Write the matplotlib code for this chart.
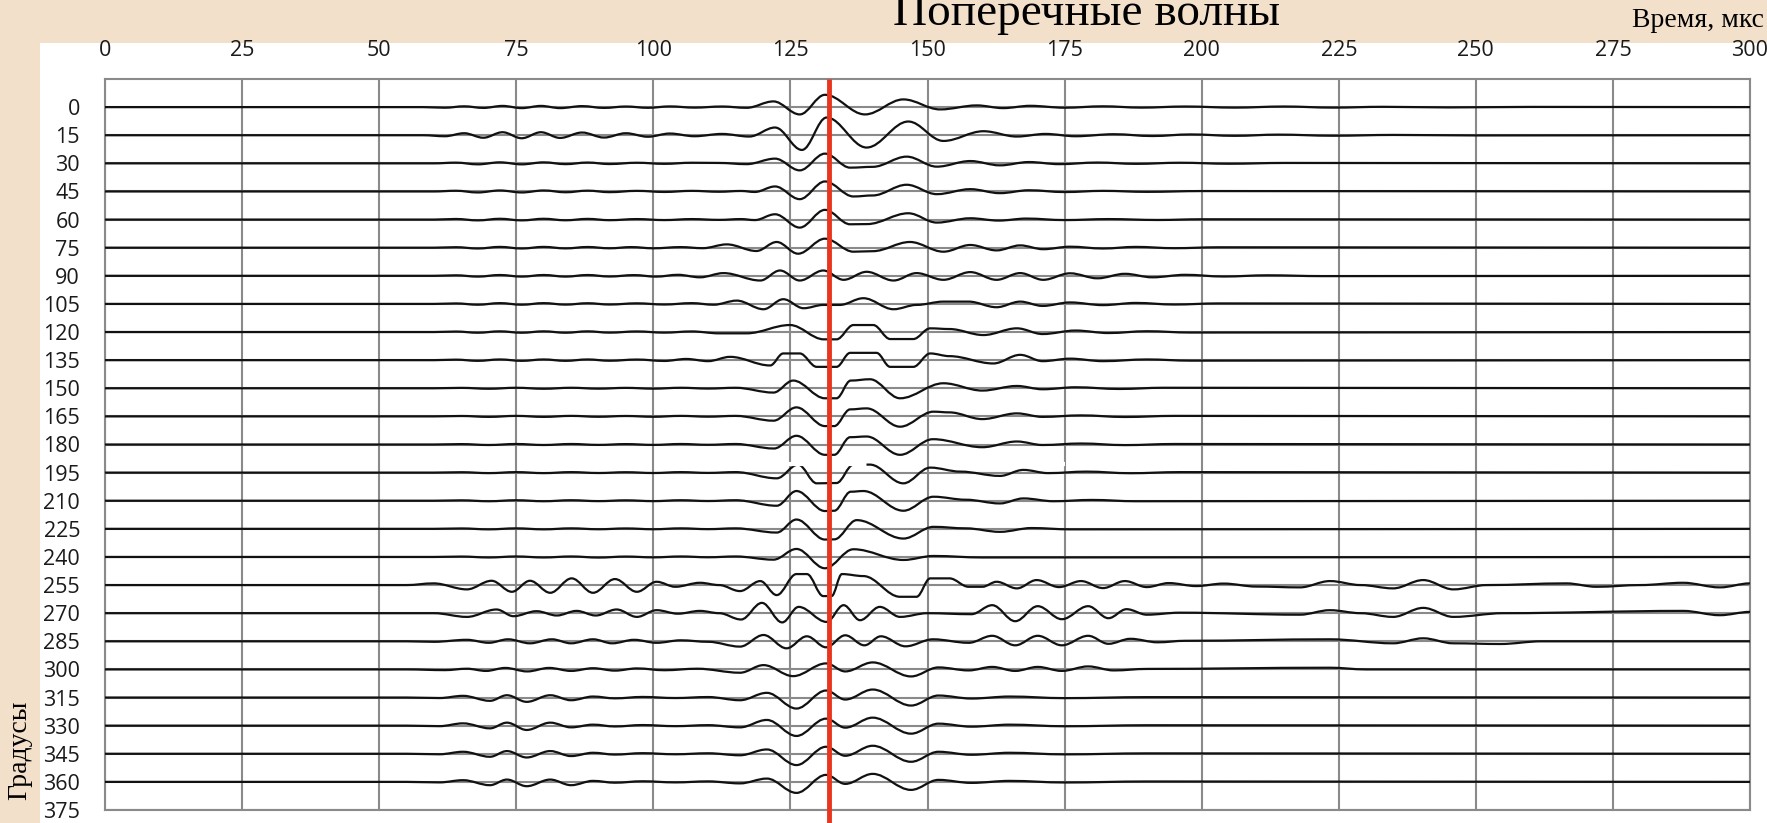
import matplotlib
matplotlib.use("Agg")
import matplotlib.pyplot as plt
from matplotlib.path import Path
from matplotlib.patches import PathPatch, Rectangle

# ---------------- data ----------------
angles = list(range(0, 361, 15))          # trace offsets, degrees
x_ticks = list(range(0, 301, 25))         # time ticks, us
y_ticks = list(range(0, 376, 15))         # degree ticks
marker_time = 132.0                       # red marker, us
glitch_t = (123.0, 175.0)                 # white scan artefact over the 195 trace
glitch_y = 190.2

# each trace: (time us, amplitude) at the extrema of the waveform
tr_000 = [(0,0),(58,0),(62,-0.6),(65.5,0.8),(69,-0.8),(72.5,1.2),(76,-1),(79.5,1.2),(83,-1),(87,1),(91,-0.8),(95,0.6),(99,-0.7),(103,0.7),(107.5,-0.5),(112.5,0.6),(117,-0.7),(121.9,5.7),(126.7,-7.3),(131.3,12.3),(138.6,-7.3),(145.6,7.7),(152.3,-2.3),(159,1.7),(163.8,-1),(168.7,1.3),(175,-0.6),(182,0.8),(189,-0.5),(197,0.6),(206,-0.5),(215,0.6),(224,-0.5),(233,0.3),(245,-0.3),(260,0.2),(300,0)]
tr_015 = [(0,0),(58,0),(62,-1),(65.5,2),(69,-2.5),(72.5,3),(76,-3),(79.5,3),(83,-2.7),(87,2.7),(91,-2.3),(95,2),(99,-1.5),(103,1.7),(107.5,-1),(112.5,1.3),(117.5,-1.3),(122.2,7.7),(127.1,-14.7),(131.6,17.7),(138.9,-12.3),(146.5,13.7),(152.9,-5.7),(160.2,4),(166.3,-1.3),(171.5,1.3),(177,-1),(184,1),(191,-0.8),(198,0.8),(206,-0.6),(214,0.6),(224,-0.5),(235,0.3),(250,-0.2),(300,0)]
tr_030 = [(0,0),(60,0),(64,0.7),(68,-1),(72,1),(76,-1),(80,1),(84,-0.8),(88,0.8),(92,-0.7),(97,0.6),(102,-0.5),(107,0.6),(112,0.4),(117,-0.8),(122.2,4.7),(126.7,-7),(131.3,9.7),(135.9,-4.3),(140,-3.5),(146.2,6.7),(151.7,-3.3),(157.8,2.3),(163.2,-2),(168.5,1.3),(174,-0.8),(181,0.8),(188,-0.5),(196,0.6),(205,-0.4),(215,0.4),(300,0)]
tr_045 = [(0,0),(60,0),(64,0.7),(68,-1),(72,1),(76,-1),(80,1),(84,-0.8),(88,0.8),(92,-0.7),(97,0.6),(102,-0.5),(107,0.6),(112,-0.3),(116,0.5),(118.5,-0.5),(122.2,5),(126.7,-7.7),(131.3,10),(136.5,-5),(140,-4),(146.2,6.7),(151.7,-2.7),(157.8,2.3),(163.2,-1.7),(168.5,1.2),(175,-0.6),(182,0.6),(190,-0.4),(200,0.4),(300,0)]
tr_060 = [(0,0),(60,0),(64,0.6),(68,-0.8),(72,0.8),(76,-0.8),(80,0.8),(84,-0.7),(88,0.7),(92,-0.6),(97,0.5),(102,-0.5),(107,0.5),(112,-0.3),(116,0.5),(118.5,-0.5),(122.2,5.3),(126.7,-8),(131.3,9.7),(135.9,-4.7),(139,-4.5),(146.5,6.3),(151.7,-3),(157.8,1.3),(163,-1),(168,1),(175,-0.5),(183,0.5),(192,-0.4),(200,0.3),(300,0)]
tr_075 = [(0,0),(60,0),(64,0.5),(68,-0.8),(72,0.8),(76,-0.8),(80,0.8),(84,-0.7),(88,0.7),(92,-0.6),(96,0.6),(100,-0.6),(105,0.6),(109,-0.5),(113.4,3.3),(118.8,-3.3),(122.5,5.7),(126.4,-6),(131.3,9),(136.5,-4),(140,-3.5),(146.8,5.7),(152.9,-4),(157.8,2.7),(162.6,-2.7),(166.9,2.3),(171.1,-1.5),(176,1),(182,-0.8),(188,0.8),(195,-0.5),(203,0.4),(300,0)]
tr_090 = [(0,0),(60,0),(64,0.5),(68,-0.8),(72,0.8),(76,-0.8),(80,0.8),(84,-0.8),(88,0.8),(92,-0.7),(96.5,0.7),(100.5,-0.8),(104.5,1),(108.5,-1.5),(112.8,2.7),(119.5,-4.7),(123.1,5.3),(126.7,-4.7),(131,5.3),(134.7,-4),(138.9,4),(143.8,-4.7),(148,2.7),(152.9,-4),(157.8,3.7),(162.6,-4),(166.9,2.7),(171.1,-4),(176,2.5),(181,-2.5),(186,2),(191,-1.5),(197,1),(204,-0.7),(212,0.5),(222,-0.3),(300,0)]
tr_105 = [(0,0),(60,0),(64,0.5),(68,-0.8),(72,0.8),(76,-0.8),(80,0.8),(84,-0.7),(88,0.7),(92,-0.6),(97,0.6),(102,-0.6),(107,0.8),(111,-0.8),(115.2,3.3),(120.1,-5.3),(123.7,4.7),(127.4,-4.3),(131,-1),(134,-1),(138.3,5.7),(143.8,-5.3),(148,-1),(152.9,2.3),(157.5,2.3),(162.6,-3.3),(166.9,2.3),(171,-2),(176,1.5),(182,-1.2),(188,1),(195,-0.6),(203,0.5),(300,0)]
tr_120 = [(0,0),(60,0),(64,0.5),(68,-0.7),(72,0.7),(76,-0.7),(80,0.7),(84,-0.7),(88,0.7),(92,-0.6),(97,0.6),(102,-0.6),(107,0.6),(112,-1.3),(117,-1.3),(124.9,7),(131.1,-7.3),(133.4,-7.3),(136.5,7),(140.1,7),(143.2,-7),(147.4,-7),(150.5,3.7),(154,3),(160.2,-3),(166.3,3.7),(171,-2),(177,1.5),(183,-1),(190,0.8),(198,-0.5),(300,0)]
tr_135 = [(0,0),(60,0),(64,0.5),(68,-0.7),(72,0.7),(76,-0.7),(80,0.7),(84,-0.7),(88,0.7),(92,-0.6),(97,0.6),(102,-0.8),(106,1.2),(110,-1),(114,3.3),(121.3,-5.3),(123.7,6.7),(126.7,6.7),(129.8,-6.7),(133.4,-6.7),(135.9,7.3),(140.7,7.3),(143.2,-6.7),(147.4,-6.7),(150.5,6.7),(154,4),(162,-3.3),(166.9,5.3),(171,-1),(176,1.5),(182,-1),(190,0.7),(198,-0.5),(300,0)]
tr_150 = [(0,0),(60,0),(65,0.4),(70,-0.5),(75,0.5),(80,-0.5),(85,0.5),(90,-0.4),(95,0.4),(100,-0.4),(105,0.5),(110,-0.3),(115,0.5),(121.9,-4.3),(125.5,7.7),(131.3,-10),(133.4,-10),(136,7.7),(139.5,9),(145,-10),(152.9,5),(160,-2.3),(166.3,2.3),(171,-1),(177,1),(185,-0.7),(193,0.5),(300,0)]
tr_165 = [(0,0),(60,0),(65,0.4),(70,-0.5),(75,0.5),(80,-0.5),(85,0.5),(90,-0.4),(95,0.4),(100,-0.4),(105,0.5),(110,-0.3),(115,0.5),(121.9,-4.3),(126.1,9),(131.3,-9.7),(133,-9.7),(135.9,7),(138.9,8),(145,-10.3),(151.1,4.7),(154,4),(160,-2.7),(166.3,3),(171,-0.5),(178,1),(186,-0.6),(195,0.5),(300,0)]
tr_180 = [(0,0),(60,0),(65,0.4),(70,-0.5),(75,0.5),(80,-0.5),(85,0.5),(90,-0.4),(95,0.4),(100,-0.4),(105,0.5),(110,-0.3),(115,0.5),(122,-4),(126.1,8.7),(131.3,-10.3),(133,-10.3),(135.9,7.3),(138.9,8),(145,-10.3),(151,5.3),(160,-2.7),(166.3,3),(171,-0.5),(178,1),(186,-0.6),(195,0.5),(300,0)]
tr_195 = [(0,0),(60,0),(65,0.4),(70,-0.5),(75,0.5),(80,-0.5),(85,0.5),(90,-0.4),(95,0.4),(100,-0.4),(105,0.5),(110,-0.3),(115,0.5),(122.5,-5.7),(126.4,8),(129.8,-10.7),(133.4,-10.4),(136.5,8),(139.5,8),(145.6,-10.7),(150.5,5),(156,1),(163.2,-3.3),(167.5,2.7),(172,-0.5),(179,1),(187,-0.6),(196,0.5),(300,0)]
tr_210 = [(0,0),(60,0),(65,0.4),(70,-0.5),(75,0.5),(80,-0.5),(85,0.5),(90,-0.4),(95,0.4),(100,-0.4),(105,0.5),(110,-0.3),(115,0.5),(122.5,-5),(126.1,9.7),(131.3,-10.3),(133,-10),(136,9),(138.3,9.7),(145.6,-10),(151.1,4),(157,1),(163.2,-2.7),(167.5,2.3),(173,-0.5),(180,0.8),(188,-0.5),(300,0)]
tr_225 = [(0,0),(60,0),(65,0.4),(70,-0.5),(75,0.5),(80,-0.5),(85,0.5),(90,-0.4),(95,0.4),(100,-0.4),(105,0.5),(110,-0.3),(115,0.5),(122.5,-3.7),(126.1,9.3),(131.3,-10.7),(133,-10.5),(137.1,8.7),(145.6,-9.7),(151.1,2),(157,0.5),(163.2,-3),(169,0.8),(176,-0.5),(300,0)]
tr_240 = [(0,0),(60,0),(65,0.4),(70,-0.5),(75,0.5),(80,-0.5),(85,0.5),(90,-0.6),(95,0.4),(100,-0.4),(105,0.5),(110,-0.3),(115,0.5),(121.9,-2.7),(126.1,8),(131.3,-11.3),(136.5,7.7),(145.6,-3),(151.1,1),(160,-0.5),(300,0)]
tr_255 = [(0,0),(55,0),(59.9,1.7),(66,-4.3),(70.5,4.3),(74.2,-6.7),(77.5,4.3),(81.2,-7.7),(85.1,6.7),(89,-7.7),(93,6),(97,-6.7),(100.6,3.3),(104,-1.7),(108.5,2.3),(112,0),(115.8,-6),(119.5,4),(122.5,-10),(126.1,11),(128,11),(131,-11),(132.5,-11),(134.4,11),(138.3,9),(145,-11.7),(148,-11.7),(150.5,6.7),(154,6.7),(157.5,-1.7),(160,-1.7),(162.6,3.3),(166.3,-3.3),(169.9,5),(174,-2),(178,4),(182,-3),(186,4),(190,-2),(194,2),(199,-1),(204,1.5),(210,-1.5),(217.9,-2.3),(223.4,4),(229,0),(234.9,-3.3),(240.4,5),(245.9,-4.3),(252,0),(266.5,1.7),(272,-1.7),(280,0),(287.8,2.3),(294.5,-2.3),(300,1.7)]
tr_270 = [(0,0),(60,0),(66,-3.7),(71.4,3.7),(74.5,-3),(78.7,2),(82.4,-2.3),(86,2.3),(89.5,-2.3),(93.3,3.7),(97,-3.7),(100.6,3),(104.5,-0.5),(108.5,2.3),(112,0),(116,-6.3),(119.8,10.3),(123.5,-9.2),(126.5,6.3),(131.6,-8.7),(134.7,8),(137.7,-7),(141.3,6.3),(145,-3.7),(150,0),(158,-1),(161.8,8),(166,-8),(170.1,7),(174.5,-6),(179.3,7),(183,-5),(186.3,4),(190,-1.5),(196,0.5),(217.9,-1.5),(223.4,3),(229,0),(234.9,-3.7),(240.4,5.3),(245.9,-3.7),(255,0),(287.8,2.3),(294.5,-2),(300,1.3)]
tr_285 = [(0,0),(55,0),(60,-0.5),(66,1.5),(70,-1.5),(73.5,2),(77.5,-2),(81.5,2),(85,-2),(89,2),(92.5,-2),(96.5,1.5),(100.6,-1.5),(105,1),(110,-0.5),(115.8,-5.3),(120.1,6.3),(124.3,-7),(128,5),(131.5,-6),(135,6),(138.5,-4),(141.5,5),(146,-5),(151,2),(157.5,-1.5),(161.8,5.5),(166,-4),(170.1,5.5),(174.5,-4),(179.3,5.5),(183,-2.5),(187,2.5),(192,-1),(197,0.5),(223.4,2),(234.9,-2),(240.4,3),(245.9,-2),(254.4,-2.7),(262,0),(300,0)]
tr_300 = [(0,0),(55,0),(62,-0.7),(66,0.7),(69.5,-1.5),(73,1.5),(77,-2),(81,1.5),(85,-1.5),(89,1.2),(93,-1.2),(97,1),(102,-0.8),(108,0.7),(115.8,-3.3),(120.1,4.3),(125.5,-6.7),(131.5,6),(135,-2),(140,7),(147,-7),(152,2),(157.5,-1),(161.8,2.5),(166,-1.5),(170.1,2.5),(174.5,-1.5),(179.3,3),(184,-1),(190,0.5),(223.4,1.7),(230,0),(300,0)]
tr_315 = [(0,0),(55,0),(61,-0.5),(65.3,1.7),(70.2,-3.3),(73.3,2.3),(76.9,-4.3),(81.2,2.3),(85,-2.7),(89,1),(93,-0.8),(98,0.6),(104,-0.5),(110,0.5),(115.8,-2.7),(120.7,4.7),(126.1,-11),(131.5,7),(135,-2),(140,8),(147,-8),(152,2),(158,-1),(165,1),(175,-0.6),(190,0.4),(300,0)]
tr_330 = [(0,0),(55,0),(61,-0.5),(65.3,2.3),(70.2,-2.7),(73.3,3),(76.9,-4.3),(81.2,3),(85,-1.7),(89,1),(93,-0.8),(98,0.6),(104,-0.5),(110,0.5),(115.8,-1.7),(120.7,5.7),(126.1,-10.3),(131.5,7),(135,-2),(140,8),(147,-8),(152,2),(158,-1),(165,1),(175,-0.6),(190,0.4),(300,0)]
tr_345 = [(0,0),(55,0),(61,-0.5),(65.3,2),(70.2,-3),(73.3,2.7),(76.9,-3.7),(81.2,2.7),(85,-2.3),(89,1),(93,-0.8),(98,0.6),(104,-0.5),(110,0.5),(115.8,-1.5),(120.7,4.3),(126.1,-11.3),(131.5,7),(135,-2),(140,8),(147,-8),(152,2),(158,-1),(165,1),(175,-0.6),(190,0.4),(300,0)]
tr_360 = [(0,0),(55,0),(61,-0.5),(65.3,1.7),(70.2,-3.3),(73.3,2.3),(76.9,-4.3),(81.2,2.3),(85,-3.3),(89,1),(93,-0.8),(98,0.6),(104,-0.5),(110,0.5),(115.8,-1.5),(120.7,3.3),(126.1,-11),(131.5,7),(135,-2),(140,8),(147,-8),(152,2),(158,-1),(165,1),(175,-0.6),(190,0.4),(300,0)]

traces = [tr_000, tr_015, tr_030, tr_045, tr_060, tr_075, tr_090, tr_105, tr_120,
          tr_135, tr_150, tr_165, tr_180, tr_195, tr_210, tr_225, tr_240, tr_255,
          tr_270, tr_285, tr_300, tr_315, tr_330, tr_345, tr_360]

# ---------------- style ----------------
W, H, DPI = 1767, 823, 100
BEIGE = "#F2E0CB"
GRID = "#8a8a8a"
AMP = 15.0 / 28.1      # degree units per amplitude unit
KCTRL = 0.36           # bezier handle length (fraction of segment)

plt.rcParams["font.family"] = ["Open Sans", "DejaVu Sans"]


def wave_path(points, base):
    verts = [(points[0][0], base - points[0][1] * AMP)]
    codes = [Path.MOVETO]
    for (t0, a0), (t1, a1) in zip(points[:-1], points[1:]):
        d = (t1 - t0) * KCTRL
        y0 = base - a0 * AMP
        y1 = base - a1 * AMP
        verts += [(t0 + d, y0), (t1 - d, y1), (t1, y1)]
        codes += [Path.CURVE4] * 3
    return Path(verts, codes)


fig = plt.figure(figsize=(W / DPI, H / DPI), dpi=DPI)
fig.patch.set_facecolor(BEIGE)
fig.add_artist(Rectangle((40 / W, 0), (W - 40) / W, (H - 43) / H,
                         transform=fig.transFigure, facecolor="white",
                         edgecolor="none", zorder=0))

ax = fig.add_axes([105 / W, (H - 810) / H, 1645 / W, 731 / H])
ax.set_facecolor("white")

for ang, tr in zip(angles, traces):
    ax.add_patch(PathPatch(wave_path(tr, ang), fill=False, edgecolor="#111111",
                           linewidth=1.6, zorder=3, joinstyle="round"))

# white dashed scan artefact
ax.plot(list(glitch_t), [glitch_y, glitch_y], color="white", linewidth=3.0,
        dashes=(8, 5), zorder=4)

ax.plot([marker_time, marker_time], [-15, 382], color="#E8351E", linewidth=3.5,
        clip_on=False, zorder=5, solid_capstyle="butt")

ax.set_xlim(0, 300)
ax.set_ylim(375, -15)
ax.set_xticks(x_ticks)
ax.set_yticks(y_ticks)
ax.xaxis.tick_top()
ax.tick_params(length=0, labelcolor="#1a1a1a")
ax.tick_params(axis="x", pad=13, labelsize=15.5)
ax.tick_params(axis="y", pad=18, labelsize=15.5)
ax.grid(True, color=GRID, linewidth=1.5)
ax.set_axisbelow(True)
for s in ax.spines.values():
    s.set_color(GRID)
    s.set_linewidth(1.5)

fig.text(893 / W, 1 - 25 / H, "Поперечные волны", family="Liberation Serif",
         fontsize=34, ha="left", va="baseline", color="black")
fig.text(1764 / W, 1 - 27 / H, "Время, мкс", family="Liberation Serif",
         fontsize=20, ha="right", va="baseline", color="black")
fig.text(20 / W, 1 - 750 / H, "Градусы", family="Liberation Serif",
         fontsize=20, ha="center", va="center", rotation=90, color="black")

fig.savefig("out.png", dpi=DPI, facecolor=BEIGE)
